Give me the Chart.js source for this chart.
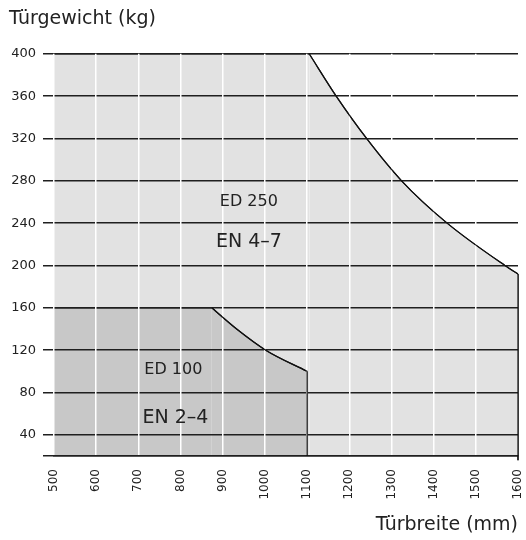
<!DOCTYPE html>
<html>
<head>
<meta charset="utf-8">
<script src="https://cdn.jsdelivr.net/npm/chart.js@4.4.0/dist/chart.umd.min.js"></script>
<style>
  html, body { margin: 0; padding: 0; background: #fff; }
  #wrap { width: 526px; height: 540px; }
</style>
</head>
<body>
<div id="wrap"><canvas id="tuerChart"></canvas></div>
<script>
// Türbreite in mm, Türgewicht in kg
const ed250Breite = [500, 1105, 1169, 1241, 1324, 1432, 1569, 1600];
const ed250Gewicht = [400, 400, 360, 320, 280, 240, 200, 192];
const ed100Breite = [500, 874, 933, 1002, 1100];
const ed100Gewicht = [160, 160, 140, 120, 100];

const xTicks = [500, 600, 700, 800, 900, 1000, 1100, 1200, 1300, 1400, 1500, 1600];
const yTicks = [20, 40, 80, 120, 160, 200, 240, 280, 320, 360, 400];

const bereiche = [
    { text: "ED 250", x: 962, y: 260, size: 16 },
    { text: "EN 4–7", x: 962, y: 222, size: 19 },
    { text: "ED 100", x: 783, y: 101, size: 16 },
    { text: "EN 2–4", x: 788, y: 56, size: 19 }
];

const schrift = "'DejaVu Sans'";
const dunkel = "#1f1f1f";
const yMin = yTicks[0];

function punkte(xs, ys, von, bis) {
    const out = [];
    for (let i = von; i <= bis; i++) out.push({ x: xs[i], y: ys[i] });
    return out;
}

const n250 = ed250Breite.length - 1;
const n100 = ed100Breite.length - 1;

const datasets = [
    // ED 100
    { data: punkte(ed100Breite, ed100Gewicht, 0, 1), fill: "origin", backgroundColor: "#c8c8c8", borderColor: dunkel, borderWidth: 1.5 },
    { data: punkte(ed100Breite, ed100Gewicht, 1, n100), fill: "origin", backgroundColor: "#c8c8c8", borderColor: "#111", borderWidth: 1.2, cubicInterpolationMode: "monotone" },
    { data: [{ x: ed100Breite[n100], y: ed100Gewicht[n100] }, { x: ed100Breite[n100], y: yMin }], fill: false, borderColor: "#111", borderWidth: 1.2 },
    // ED 250
    { data: punkte(ed250Breite, ed250Gewicht, 0, 1), fill: "origin", backgroundColor: "#e2e2e2", borderColor: dunkel, borderWidth: 1.5 },
    { data: punkte(ed250Breite, ed250Gewicht, 1, n250), fill: "origin", backgroundColor: "#e2e2e2", borderColor: "#111", borderWidth: 1.2, cubicInterpolationMode: "monotone" },
    { data: [{ x: ed250Breite[n250], y: ed250Gewicht[n250] }, { x: ed250Breite[n250], y: yMin - 4 }], fill: false, borderColor: "#111", borderWidth: 1.2, clip: false }
];

// Randlinien und Beschriftungen über das Raster legen
const oben = {
    id: "oben",
    afterDraw(chart) {
        const ctx = chart.ctx;
        [1, 2, 4, 5].forEach(i => chart.getDatasetMeta(i).dataset.draw(ctx, chart.chartArea));
        const xs = chart.scales.x, ys = chart.scales.y;
        ctx.save();
        ctx.fillStyle = "#222";
        ctx.textAlign = "center";
        ctx.textBaseline = "middle";
        bereiche.forEach(b => {
            ctx.font = b.size + "px " + schrift;
            ctx.fillText(b.text, xs.getPixelForValue(b.x), ys.getPixelForValue(b.y));
        });
        ctx.restore();
    }
};

Chart.defaults.font.family = schrift;
Chart.defaults.color = "#222";

new Chart(document.getElementById("tuerChart"), {
    type: "line",
    data: { datasets },
    options: {
        responsive: true,
        maintainAspectRatio: false,
        animation: false,
        layout: { padding: { left: 9, right: 8, top: 0, bottom: 0 } },
        elements: { point: { radius: 0, hoverRadius: 0 }, line: { tension: 0 } },
        plugins: {
            legend: { display: false },
            tooltip: { enabled: false },
            title: {
                display: true,
                text: "Türgewicht (kg)",
                align: "start",
                color: "#222",
                font: { size: 19, weight: "normal" },
                padding: { top: 8, bottom: 23 }
            }
        },
        scales: {
            x: {
                type: "linear",
                min: 500,
                max: 1600,
                afterBuildTicks: s => { s.ticks = xTicks.map(v => ({ value: v })); },
                afterFit: s => { s.height = 84; s.paddingLeft = 0; s.paddingRight = 0; },
                grid: {
                    color: c => (c.tick && c.tick.value === 1600) ? "rgba(0,0,0,0)" : "#fff",
                    lineWidth: 1.5,
                    drawTicks: false,
                    z: 2
                },
                border: { color: dunkel, width: 1.5, z: 3 },
                ticks: { autoSkip: false, minRotation: 90, maxRotation: 90, padding: 13, font: { size: 12 }, callback: v => String(v) },
                title: { display: true, text: "Türbreite (mm)", align: "end", font: { size: 19 }, padding: { top: 0, bottom: 4 } }
            },
            y: {
                min: yMin,
                max: 400,
                afterBuildTicks: s => { s.ticks = yTicks.map(v => ({ value: v })); },
                afterFit: s => { s.width = 45; },
                grid: { color: dunkel, lineWidth: 1.5, tickLength: 11, z: 1 },
                border: { display: false },
                ticks: { padding: 7, font: { size: 13 }, callback: v => (v === yMin ? "" : String(v)) }
            }
        }
    },
    plugins: [oben]
});
</script>
</body>
</html>
